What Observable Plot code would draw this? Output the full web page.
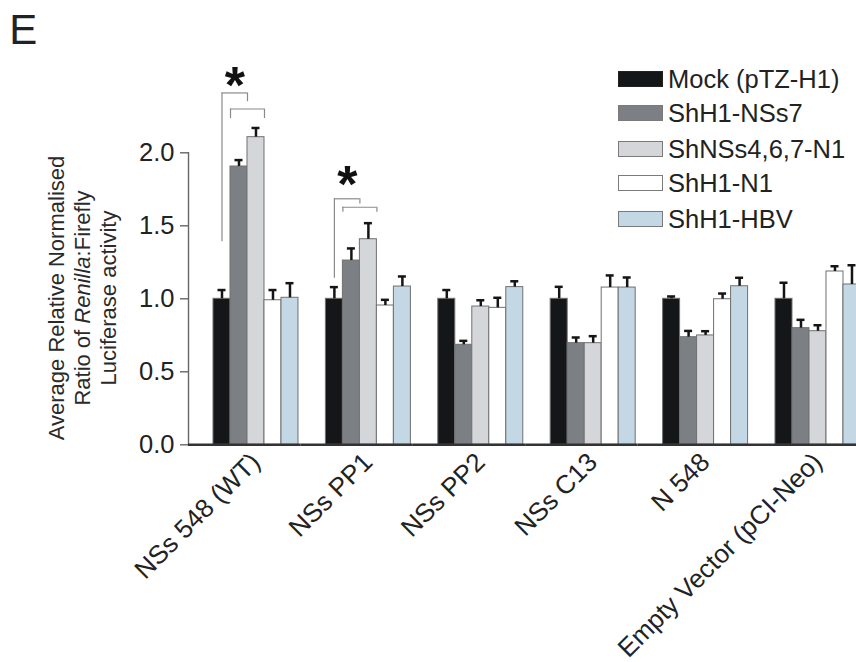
<!DOCTYPE html>
<html><head><meta charset="utf-8">
<script src="https://cdn.jsdelivr.net/npm/d3@7"></script>
<script src="https://cdn.jsdelivr.net/npm/@observablehq/plot@0.6"></script>
<style>
html,body{margin:0;padding:0;background:#fff;overflow:hidden;}
#wrap{position:relative;width:856px;height:662px;overflow:hidden;font-family:"Liberation Sans",Arial,Helvetica,sans-serif;color:#222;}
#chart{position:absolute;left:0;top:0;width:870px;}
#chart svg{max-width:none !important;}
#panel{position:absolute;left:9.3px;top:8.5px;font-size:42px;line-height:1;}
#ytitle{position:absolute;left:-77px;top:259px;width:320px;height:78px;font-size:22px;line-height:26px;text-align:center;transform:rotate(-90deg);color:#2a2a2a;white-space:nowrap;}
#legend{position:absolute;left:618px;top:0;width:238px;height:240px;}
.row{position:absolute;left:0;height:25px;font-size:25.5px;line-height:1;white-space:nowrap;}
.sw{position:absolute;left:0;top:4.3px;width:43px;height:14px;border:1px solid #7a7a7a;}
.lab{position:absolute;left:50px;top:0;}
</style></head>
<body>
<div id="wrap">
  <div id="chart"></div>
  <div id="panel">E</div>
  <div id="ytitle">Average Relative Normalised<br>Ratio of <i>Renilla</i>:Firefly<br>Luciferase activity</div>
  <div id="legend"></div>
</div>
<script>
// ---- data ----
const categories = ["NSs 548 (WT)", "NSs PP1", "NSs PP2", "NSs C13", "N 548", "Empty Vector (pCI-Neo)"];
const series = ["Mock (pTZ-H1)", "ShH1-NSs7", "ShNSs4,6,7-N1", "ShH1-N1", "ShH1-HBV"];
const colors = ["#151618", "#7c8085", "#d5d6da", "#ffffff", "#c4d7e5"];

const mockMean   = [1.00, 1.00, 1.00, 1.00, 1.00, 1.00];
const nss7Mean   = [1.906, 1.262, 0.685, 0.696, 0.737, 0.799];
const nss467Mean = [2.107, 1.408, 0.947, 0.696, 0.749, 0.778];
const n1Mean     = [0.990, 0.954, 0.938, 1.077, 0.997, 1.187];
const hbvMean    = [1.007, 1.084, 1.080, 1.077, 1.086, 1.098];

const mockErr   = [0.060, 0.080, 0.060, 0.082, 0.016, 0.110];
const nss7Err   = [0.044, 0.083, 0.027, 0.039, 0.043, 0.057];
const nss467Err = [0.063, 0.110, 0.043, 0.048, 0.029, 0.041];
const n1Err     = [0.070, 0.039, 0.069, 0.083, 0.039, 0.036];
const hbvErr    = [0.100, 0.069, 0.040, 0.069, 0.058, 0.132];

const yTicks = [0, 0.5, 1.0, 1.5, 2.0];

// significance brackets (y values in data units)
const sigCategories = ["NSs 548 (WT)", "NSs PP1"];
const outerLow      = [1.39, 1.14];
const outerTop      = [2.41, 1.685];
const outerRightLow = [2.35, 1.65];
const innerTop      = [2.30, 1.627];
const innerLow      = [2.235, 1.593];
const starY         = [2.455, 1.775];

// ---- tables ----
const means = [mockMean, nss7Mean, nss467Mean, n1Mean, hbvMean];
const errs = [mockErr, nss7Err, nss467Err, n1Err, hbvErr];
const rows = [];
series.forEach((s, i) => categories.forEach((c, j) =>
  rows.push({category: c, series: s, value: means[i][j], err: errs[i][j]})));
const sig = sigCategories.map((c, i) => ({
  category: c, outerLow: outerLow[i], outerTop: outerTop[i], outerRightLow: outerRightLow[i],
  innerTop: innerTop[i], innerLow: innerLow[i], starY: starY[i]
}));

const bracketStyle = {stroke: "#8a8a8a", strokeWidth: 1.2};

const chart = Plot.plot({
  width: 870,
  height: 662,
  marginTop: 152.3,
  marginBottom: 217.7,
  marginLeft: 188,
  marginRight: 7.6,
  style: {fontFamily: "'Liberation Sans', Arial, Helvetica, sans-serif", fontSize: "25px", color: "#222", background: "transparent", maxWidth: "none"},
  fx: {domain: categories, padding: 0, round: false},
  x: {domain: series, paddingInner: 0, paddingOuter: 0.806, align: 0.912, axis: null, round: false},
  y: {domain: [0, 2], axis: null},
  color: {domain: series, range: colors},
  marks: [
    Plot.frame({anchor: "left", facetAnchor: "left", stroke: "#666", strokeWidth: 1.4}),
    Plot.axisY({ticks: yTicks, tickFormat: d3.format(".1f"), tickSize: 8, tickPadding: 6, fontSize: 25.5, label: null, stroke: "#666", strokeWidth: 1.4, fill: "#222"}),
    Plot.axisFx({anchor: "bottom", tickRotate: -45, tickSize: 0, tickPadding: 13, fontSize: 26, label: null, fill: "#222", dx: 11}),
    Plot.barY(rows, {fx: "category", x: "series", y: "value", fill: "series", stroke: "#707070", strokeWidth: 1}),
    Plot.ruleX(rows, {fx: "category", x: "series", y1: "value", y2: d => d.value + d.err, stroke: "#151515", strokeWidth: 2.5}),
    Plot.tickY(rows, {fx: "category", x: "series", y: d => d.value + d.err, stroke: "#151515", strokeWidth: 2.5, inset: 4.5}),
    Plot.ruleY([0], {stroke: "#333", strokeWidth: 2.4}),
    // outer bracket
    Plot.ruleX(sig, {fx: "category", x: () => series[0], y1: "outerLow", y2: "outerTop", ...bracketStyle}),
    Plot.ruleX(sig, {fx: "category", x: () => series[1], y1: "outerRightLow", y2: "outerTop", dx: 8.5, ...bracketStyle}),
    Plot.ruleY(sig, {fx: "category", y: "outerTop", x1: () => series[0], x2: () => series[1], insetLeft: 8.5, ...bracketStyle}),
    // inner bracket
    Plot.ruleX(sig, {fx: "category", x: () => series[1], y1: "innerLow", y2: "innerTop", dx: -8.5, ...bracketStyle}),
    Plot.ruleX(sig, {fx: "category", x: () => series[2], y1: "innerLow", y2: "innerTop", dx: 8.5, ...bracketStyle}),
    Plot.ruleY(sig, {fx: "category", y: "innerTop", x1: () => series[1], x2: () => series[2], ...bracketStyle}),
    // asterisks
    Plot.text(sig, {fx: "category", x: () => series[1], y: "starY", text: () => "*", fontSize: 52, fontWeight: "bold", fill: "#111", dx: -4, lineAnchor: "middle"})
  ]
});
document.getElementById("chart").appendChild(chart);

// ---- legend ----
const legend = document.getElementById("legend");
const rowTops = [66.5, 100.5, 136.5, 170.5, 206.5];
series.forEach((s, i) => {
  const r = document.createElement("div");
  r.className = "row";
  r.style.top = rowTops[i] + "px";
  const sw = document.createElement("span");
  sw.className = "sw";
  sw.style.background = colors[i];
  if (i === 0) sw.style.borderColor = "#222";
  const lab = document.createElement("span");
  lab.className = "lab";
  lab.textContent = s;
  r.appendChild(sw); r.appendChild(lab);
  legend.appendChild(r);
});
</script>
</body></html>
